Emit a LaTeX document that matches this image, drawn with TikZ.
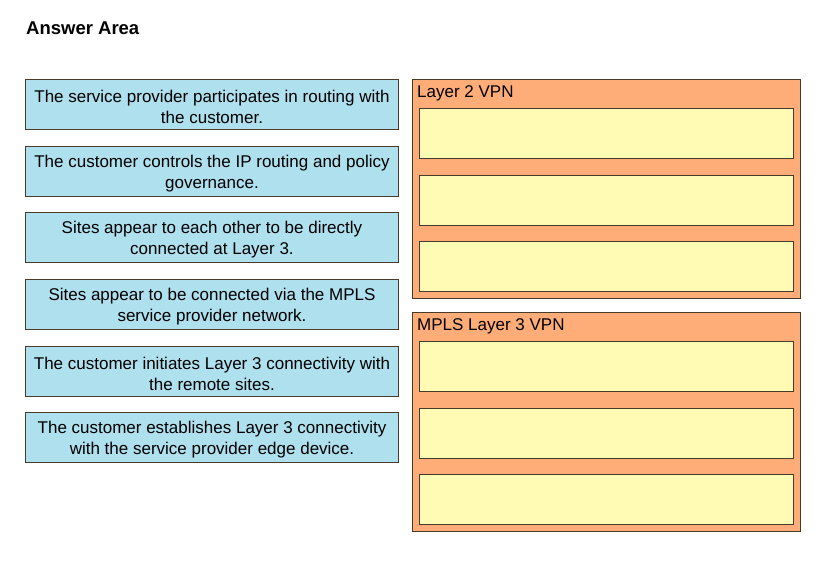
\documentclass[tikz,border=0pt]{standalone}
\usepackage{fontspec}
\setmainfont{Liberation Sans}
\definecolor{cyanbox}{HTML}{AEE0EE}
\definecolor{orangebox}{HTML}{FFAD78}
\definecolor{yellowbox}{HTML}{FFFAB4}
\definecolor{edge}{HTML}{4A3A2A}
\begin{document}
\begin{tikzpicture}[x=1pt,y=-1pt,
  itembox/.style={draw=edge,line width=1pt,fill=cyanbox,minimum width=373pt,minimum height=50pt,inner sep=0pt,anchor=north west,
    label={[inner sep=0pt,align=center,font=\fontsize{17}{21}\selectfont,yshift=-2pt]center:#1}},
  groupbox/.style={draw=edge,line width=1pt,fill=orangebox},
  slot/.style={draw=edge,line width=1pt,fill=yellowbox,minimum width=374pt,minimum height=50pt,inner sep=0pt,anchor=north west},
  grouplabel/.style={font=\fontsize{17}{20}\selectfont,anchor=north west,inner sep=0pt}]
\useasboundingbox (0,0) rectangle (823,562);
\fill[white] (0,0) rectangle (823,562);
\node[anchor=north west,inner sep=0pt,font=\bfseries\fontsize{18.5}{22}\selectfont] (title) at (26,22) {Answer Area};
\node[itembox={The service provider participates in routing with\\the customer.}] (i1) at (25,79) {};
\node[itembox={The customer controls the IP routing and policy\\governance.}] (i2) at (25,146) {};
\node[itembox={Sites appear to each other to be directly\\connected at Layer 3.}] (i3) at (25,212) {};
\node[itembox={Sites appear to be connected via the MPLS\\service provider network.}] (i4) at (25,279) {};
\node[itembox={The customer initiates Layer 3 connectivity with\\the remote sites.}] (i5) at (25,346) {};
\node[itembox={The customer establishes Layer 3 connectivity\\with the service provider edge device.}] (i6) at (25,412) {};
\draw[groupbox] (412,79) rectangle (800,298);
\node[grouplabel] (g1) at (417,85) {Layer 2 VPN};
\node[slot] (s1) at (419,108) {};
\node[slot] (s2) at (419,175) {};
\node[slot] (s3) at (419,241) {};
\draw[groupbox] (412,312) rectangle (800,531);
\node[grouplabel] (g2) at (417,318) {MPLS Layer 3 VPN};
\node[slot] (s4) at (419,341) {};
\node[slot] (s5) at (419,408) {};
\node[slot] (s6) at (419,474) {};
\end{tikzpicture}
\end{document}
